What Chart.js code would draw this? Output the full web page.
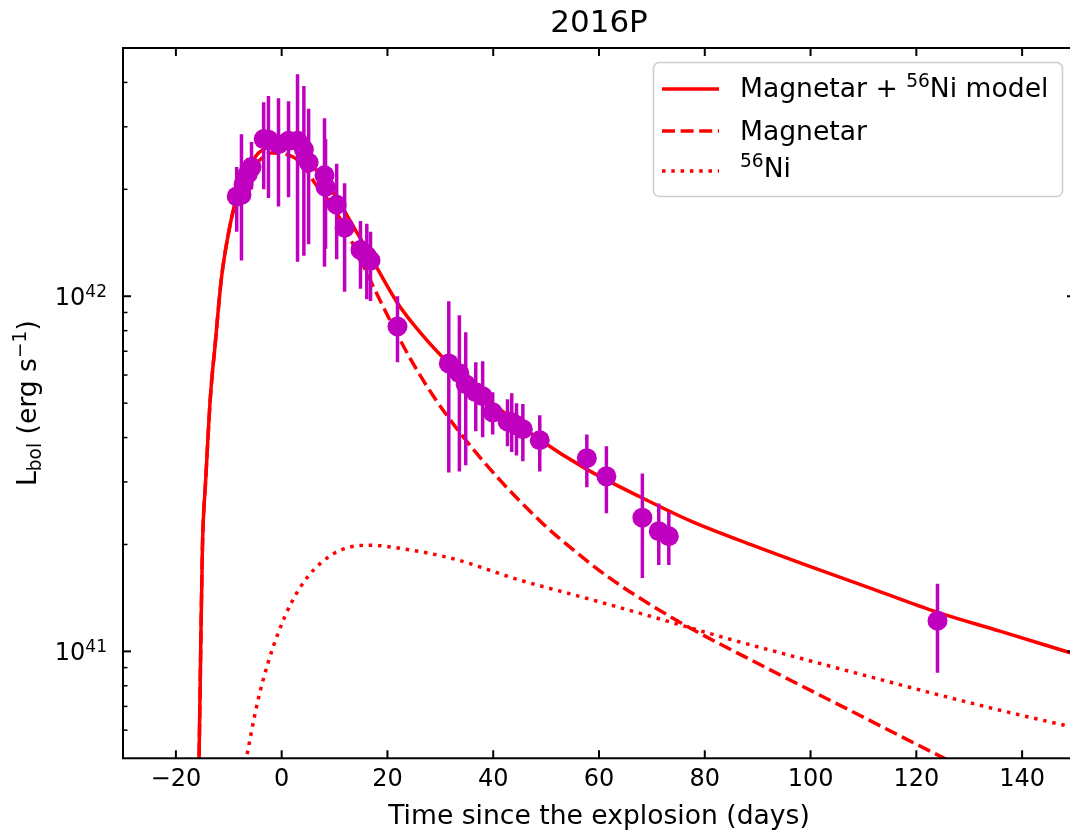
<!DOCTYPE html>
<html>
<head>
<meta charset="utf-8">
<script src="https://cdn.jsdelivr.net/npm/chart.js@4.4.1/dist/chart.umd.min.js"></script>
<style>
  html, body { margin: 0; padding: 0; background: #fff; overflow: hidden; }
  #wrap { width: 1085px; height: 833px; }
</style>
</head>
<body>
<div id="wrap"><canvas id="lc" width="1085" height="833"></canvas></div>
<script>
// tick values
const xTicks = [-20, 0, 20, 40, 60, 80, 100, 120, 140];
const yMajor = [1e41, 1e42];
const yMinor = [6e40, 7e40, 8e40, 9e40, 2e41, 3e41, 4e41, 5e41, 6e41, 7e41, 8e41, 9e41, 2e42, 3e42, 4e42];

// observed bolometric light curve (days, erg/s) with error bar ends
const obsDay = [-8.5, -7.6, -7.2, -6.4, -5.7, -3.4, -2.5, -0.6, 1.3, 3.0, 4.2, 5.1, 8.1, 8.3, 10.4, 11.9, 14.9, 16.1, 16.8, 21.9,
  31.6, 33.6, 34.8, 36.7, 38.0, 39.9, 42.7, 43.5, 44.4, 45.6, 48.8, 57.7, 61.4, 68.2, 71.3, 73.2, 124.0];
const obsLum = [1.91e42, 1.93e42, 2.07e42, 2.21e42, 2.31e42, 2.77e42, 2.76e42, 2.68e42, 2.74e42, 2.74e42, 2.59e42, 2.38e42, 2.19e42, 2.03e42, 1.81e42, 1.56e42, 1.35e42, 1.30e42, 1.26e42, 8.22e41,
  6.47e41, 6.07e41, 5.65e41, 5.37e41, 5.23e41, 4.71e41, 4.44e41, 4.42e41, 4.33e41, 4.22e41, 3.93e41, 3.50e41, 3.11e41, 2.38e41, 2.18e41, 2.11e41, 1.22e41];
const obsHi = [2.31e42, 2.86e42, 2.30e42, 2.45e42, 2.72e42, 3.52e42, 3.66e42, 3.61e42, 3.54e42, 4.22e42, 3.91e42, 3.37e42, 3.17e42, 2.77e42, 2.36e42, 2.08e42, 1.63e42, 1.60e42, 1.52e42, 1.00e42,
  9.68e41, 8.84e41, 7.92e41, 6.52e41, 6.56e41, 5.37e41, 5.13e41, 5.33e41, 5.00e41, 4.97e41, 4.62e41, 4.08e41, 3.78e41, 3.17e41, 2.61e41, 2.47e41, 1.55e41];
const obsLo = [1.52e42, 1.26e42, 1.85e42, 2.00e42, 2.00e42, 2.00e42, 1.89e42, 1.79e42, 1.90e42, 1.25e42, 1.30e42, 1.40e42, 1.21e42, 1.36e42, 1.27e42, 1.03e42, 1.05e42, 0.98e42, 0.97e42, 6.52e41,
  3.19e41, 3.21e41, 3.34e41, 4.17e41, 4.01e41, 4.08e41, 3.78e41, 3.64e41, 3.56e41, 3.43e41, 3.21e41, 2.90e41, 2.45e41, 1.61e41, 1.75e41, 1.75e41, 8.71e40];

// model curves
const fullDay = [-15.75, -15.62, -15.3, -14.98, -14.36, -13.92, -13.55, -13.09, -12.6, -12.03, -11.34, -9.96, -8.69, -6.6, -4.9, -2.5, 0, 3.0, 5.5, 9.8,
  14.36, 17.38, 21.92, 26.26, 31.55, 38.73, 43.83, 48.74, 57.62, 67.83, 77.27, 88.61, 100.5, 112.2, 123.9, 135.8, 149.1];
const fullLum = [4.0e40, 5.0e40, 1.03e41, 1.97e41, 3.05e41, 4.03e41, 5.02e41, 6.11e41, 7.23e41, 9.02e41, 1.14e42, 1.53e42, 1.85e42, 2.18e42, 2.48e42, 2.62e42, 2.64e42, 2.58e42, 2.36e42, 1.95e42,
  1.50e42, 1.25e42, 9.56e41, 7.88e41, 6.47e41, 5.15e41, 4.49e41, 3.95e41, 3.26e41, 2.72e41, 2.33e41, 2.00e41, 1.72e41, 1.49e41, 1.29e41, 1.14e41, 9.91e40];

const magDay = [-15.75, -15.62, -15.3, -14.98, -14.36, -13.92, -13.55, -13.09, -12.6, -12.03, -11.34, -9.96, -8.69, -6.6, -4.35, -2.0, 0.2, 2.1, 4.0, 6.4,
  9.8, 13.0, 16.25, 20.0, 24.4, 28.7, 33.8, 40.8, 49.1, 52.7, 62.0, 74.8, 92.0, 109.0, 125.3, 150.0];
const magLum = [4.0e40, 5.0e40, 1.03e41, 1.97e41, 3.05e41, 4.03e41, 5.02e41, 6.11e41, 7.23e41, 9.02e41, 1.14e42, 1.53e42, 1.84e42, 2.15e42, 2.40e42, 2.53e42, 2.52e42, 2.47e42, 2.34e42, 2.07e42,
  1.78e42, 1.45e42, 1.15e42, 8.84e41, 6.64e41, 5.23e41, 4.11e41, 3.09e41, 2.31e41, 2.07e41, 1.61e41, 1.22e41, 8.93e40, 6.64e40, 5.0e40, 3.33e40];

const niDay = [-7.5, -6.61, -4.59, -2.59, -0.62, 1.83, 5.04, 9.45, 13.17, 17.14, 19.2, 32.0, 44.9, 57.7, 70.6, 83.4, 96.2, 109.1, 121.9, 134.7, 149.1];
const niLum = [4.3e40, 5.06e40, 7.16e40, 9.27e40, 1.13e41, 1.37e41, 1.63e41, 1.87e41, 1.97e41, 1.99e41, 1.98e41, 1.83e41, 1.59e41, 1.41e41, 1.245e41, 1.096e41, 9.73e40, 8.65e40, 7.70e40, 6.89e40, 6.14e40];

const FONT = '"DejaVu Sans", sans-serif';
const RED = '#ff0000';
const MAG = '#bf00bf';
const LW = 3.5;
const DASH = [13, 5.6];
const DOT = [3.5, 5.8];
const LAB = 26.6;   // axis label / legend size
const SUB = 18.6;   // super/subscript size

const pts = (xs, ys) => xs.map((x, i) => ({ x: x, y: ys[i] }));

function line(ctx, x1, y1, x2, y2) {
  ctx.beginPath();
  ctx.moveTo(x1, y1);
  ctx.lineTo(x2, y2);
  ctx.stroke();
}

// draw a run of [text, size, dy] pieces starting at x
function drawPieces(ctx, pieces, x, y) {
  pieces.forEach(p => {
    ctx.font = p[1] + 'px ' + FONT;
    ctx.fillText(p[0], x, y + p[2]);
    x += ctx.measureText(p[0]).width;
  });
  return x;
}
function piecesWidth(ctx, pieces) {
  let w = 0;
  pieces.forEach(p => { ctx.font = p[1] + 'px ' + FONT; w += ctx.measureText(p[0]).width; });
  return w;
}

// error bars go right under the markers
const errorBars = {
  id: 'errorBars',
  beforeDatasetDraw(chart, args) {
    if (args.index !== 3) return;
    const { ctx, chartArea: a } = chart;
    const x = chart.scales.x, y = chart.scales.y;
    ctx.save();
    ctx.beginPath();
    ctx.rect(a.left, a.top, a.right - a.left, a.bottom - a.top);
    ctx.clip();
    ctx.strokeStyle = MAG;
    ctx.lineWidth = LW;
    obsDay.forEach((d, i) => {
      const px = x.getPixelForValue(d);
      line(ctx, px, y.getPixelForValue(obsLo[i]), px, y.getPixelForValue(obsHi[i]));
    });
    ctx.restore();
  }
};

// frame, inward ticks, y labels, y title and legend
const frame = {
  id: 'frame',
  afterDraw(chart) {
    const { ctx, chartArea: a } = chart;
    const x = chart.scales.x, y = chart.scales.y;
    ctx.save();
    ctx.strokeStyle = '#000';
    ctx.lineWidth = 2;
    ctx.strokeRect(a.left, a.top, a.right - a.left, a.bottom - a.top);

    xTicks.forEach(v => {
      const px = x.getPixelForValue(v);
      line(ctx, px, a.bottom, px, a.bottom - 8);
      line(ctx, px, a.top, px, a.top + 8);
    });
    yMajor.forEach(v => {
      const py = y.getPixelForValue(v);
      line(ctx, a.left, py, a.left + 8, py);
      line(ctx, a.right, py, a.right - 8, py);
    });
    ctx.lineWidth = 1.5;
    yMinor.forEach(v => {
      const py = y.getPixelForValue(v);
      line(ctx, a.left, py, a.left + 4.5, py);
      line(ctx, a.right, py, a.right - 4.5, py);
    });

    // y tick labels 10^41, 10^42
    ctx.fillStyle = '#000';
    ctx.textBaseline = 'alphabetic';
    ctx.textAlign = 'left';
    yMajor.forEach(v => {
      const py = y.getPixelForValue(v);
      const pieces = [['10', 24, 9], [String(Math.round(Math.log10(v))), 17, 0.5]];
      const w = piecesWidth(ctx, pieces) + 1;
      drawPieces(ctx, pieces, a.left - 15 - w, py);
    });

    // y axis title
    ctx.save();
    ctx.translate(36, (a.top + a.bottom) / 2);
    ctx.rotate(-Math.PI / 2);
    const ylab = [['L', LAB, 0], ['bol', SUB, 5], [' (erg s', LAB, 0], ['\u22121', SUB, -10], [')', LAB, 0]];
    drawPieces(ctx, ylab, -piecesWidth(ctx, ylab) / 2, 0);
    ctx.restore();

    // legend
    ctx.beginPath();
    ctx.roundRect(653.5, 62.5, 409, 134, 6);
    ctx.fillStyle = 'rgba(255,255,255,0.8)';
    ctx.fill();
    ctx.strokeStyle = '#cccccc';
    ctx.lineWidth = 1.5;
    ctx.stroke();

    const rows = [
      { dash: [], hy: 89, by: 97, text: [['Magnetar + ', LAB, 0], ['56', SUB, -10], ['Ni model', LAB, 0]] },
      { dash: DASH, hy: 131, by: 140, text: [['Magnetar', LAB, 0]] },
      { dash: DOT, hy: 171, by: 177, text: [['56', SUB, -10], ['Ni', LAB, 0]] }
    ];
    rows.forEach(r => {
      ctx.strokeStyle = RED;
      ctx.lineWidth = LW;
      ctx.setLineDash(r.dash);
      line(ctx, 662, r.hy, 719, r.hy);
      ctx.setLineDash([]);
      ctx.fillStyle = '#000';
      drawPieces(ctx, r.text, 740, r.by);
    });
    ctx.restore();
  }
};

new Chart(document.getElementById('lc'), {
  type: 'scatter',
  data: {
    datasets: [
      { label: 'Magnetar + 56Ni model', data: pts(fullDay, fullLum), showLine: true, borderColor: RED, borderWidth: LW,
        pointRadius: 0, cubicInterpolationMode: 'monotone', order: 3 },
      { label: 'Magnetar', data: pts(magDay, magLum), showLine: true, borderColor: RED, borderWidth: LW, borderDash: DASH,
        pointRadius: 0, cubicInterpolationMode: 'monotone', order: 2 },
      { label: '56Ni', data: pts(niDay, niLum), showLine: true, borderColor: RED, borderWidth: LW, borderDash: DOT,
        pointRadius: 0, cubicInterpolationMode: 'monotone', order: 1 },
      { label: 'SN 2016P', data: pts(obsDay, obsLum), pointRadius: 10, pointBackgroundColor: MAG,
        pointBorderWidth: 0, backgroundColor: MAG, order: 0 }
    ]
  },
  options: {
    responsive: false,
    animation: false,
    devicePixelRatio: 1,
    layout: { padding: { left: 123, right: 10, top: 0, bottom: 0 } },
    plugins: {
      legend: { display: false },
      tooltip: { enabled: false },
      title: {
        display: true,
        text: '2016P',
        color: '#000',
        font: { family: FONT, size: 31, weight: 'normal' },
        padding: { top: 5, bottom: 5.8 }
      }
    },
    scales: {
      x: {
        type: 'linear',
        min: -30,
        max: 150,
        afterBuildTicks: s => { s.ticks = xTicks.map(v => ({ value: v })); },
        ticks: {
          color: '#000',
          font: { family: FONT, size: 24 },
          padding: 7,
          maxRotation: 0,
          autoSkip: false,
          callback: v => (v < 0 ? '\u2212' + Math.abs(v) : String(v))
        },
        grid: { display: false, drawTicks: false },
        border: { display: false },
        title: {
          display: true,
          text: 'Time since the explosion (days)',
          color: '#000',
          font: { family: FONT, size: LAB },
          padding: { top: 0, bottom: 0 }
        }
      },
      y: {
        type: 'logarithmic',
        min: 5e40,
        max: 5e42,
        ticks: { display: false },
        grid: { display: false, drawTicks: false },
        border: { display: false }
      }
    }
  },
  plugins: [errorBars, frame]
});
</script>
</body>
</html>
